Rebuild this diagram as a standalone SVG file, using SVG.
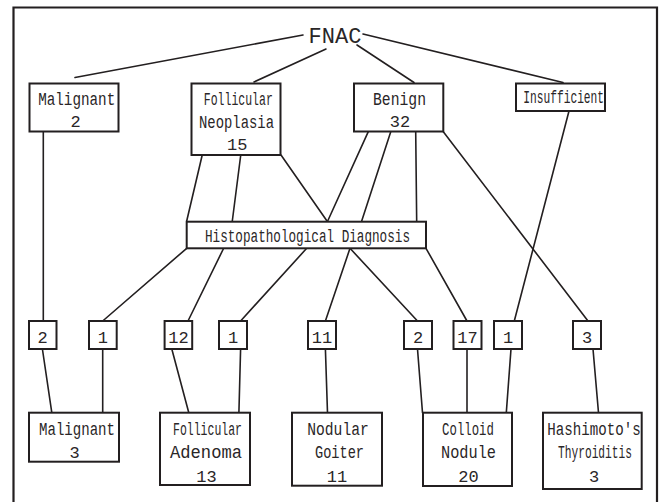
<svg xmlns="http://www.w3.org/2000/svg" width="663" height="502" viewBox="0 0 663 502">
<style>
.box{fill:#fff;stroke:#231f20;stroke-width:2}
.ln{stroke:#231f20;stroke-width:1.6;fill:none;stroke-linecap:round}
text{font-family:"Liberation Mono","Courier New",monospace;font-size:18px;fill:#2a2627;text-anchor:middle}
.num{font-size:17px}
</style>
<rect width="663" height="502" fill="#fff"/>
<path d="M13.5,505 V7.5 H657 V505" fill="none" stroke="#231f20" stroke-width="2.2"/>
<g id="connectors">
<line class="ln" x1="303" y1="35" x2="75" y2="77.5"/>
<line class="ln" x1="326" y1="49" x2="254" y2="82"/>
<line class="ln" x1="357" y1="45" x2="414" y2="82.5"/>
<line class="ln" x1="363" y1="34" x2="563" y2="82.5"/>
<line class="ln" x1="43.3" y1="131" x2="43.3" y2="321"/>
<line class="ln" x1="202.7" y1="153" x2="186.7" y2="221"/>
<line class="ln" x1="241" y1="153" x2="232.3" y2="221"/>
<line class="ln" x1="281" y1="155" x2="327" y2="221"/>
<line class="ln" x1="368.3" y1="131.7" x2="327.7" y2="221"/>
<line class="ln" x1="391" y1="131" x2="361.7" y2="221"/>
<line class="ln" x1="415.7" y1="131" x2="416.7" y2="223"/>
<line class="ln" x1="443.3" y1="131.7" x2="588" y2="321"/>
<line class="ln" x1="569" y1="111" x2="514.3" y2="321"/>
<line class="ln" x1="186.7" y1="248.3" x2="102.7" y2="321"/>
<line class="ln" x1="223.3" y1="249" x2="188" y2="321"/>
<line class="ln" x1="306.7" y1="248.3" x2="240.6" y2="321"/>
<line class="ln" x1="350" y1="248.3" x2="325.4" y2="321"/>
<line class="ln" x1="350" y1="248.3" x2="417.5" y2="321"/>
<line class="ln" x1="426" y1="248.3" x2="467" y2="321"/>
<line class="ln" x1="42.4" y1="349" x2="51.8" y2="412.7"/>
<line class="ln" x1="102.7" y1="349" x2="102.7" y2="412.7"/>
<line class="ln" x1="171.8" y1="349" x2="188.8" y2="412.7"/>
<line class="ln" x1="240.6" y1="349" x2="238.9" y2="412.7"/>
<line class="ln" x1="325.4" y1="349" x2="327.5" y2="412.7"/>
<line class="ln" x1="417.5" y1="349" x2="422.5" y2="412.7"/>
<line class="ln" x1="467" y1="349" x2="467" y2="412.7"/>
<line class="ln" x1="511" y1="349" x2="506" y2="416.7"/>
<line class="ln" x1="593" y1="349" x2="598.5" y2="412.7"/>
</g>
<g id="fnac"><text x="335" y="43.3" style="font-size:22px">FNAC</text></g>
<g id="malignant-fnac">
<rect class="box" x="29.5" y="83.5" width="89" height="48"/>
<text x="76.7" y="105" textLength="77" lengthAdjust="spacingAndGlyphs">Malignant</text>
<text class="num" x="75.5" y="127">2</text>
</g>
<g id="follicular-neoplasia">
<rect class="box" x="191.5" y="83.5" width="89" height="71.5"/>
<text x="238.3" y="105" textLength="69" lengthAdjust="spacingAndGlyphs">Follicular</text>
<text x="236.5" y="128" textLength="75" lengthAdjust="spacingAndGlyphs">Neoplasia</text>
<text class="num" x="237.3" y="150">15</text>
</g>
<g id="benign">
<rect class="box" x="354" y="83.5" width="89.3" height="48"/>
<text x="399.5" y="105" textLength="53" lengthAdjust="spacingAndGlyphs">Benign</text>
<text class="num" x="400" y="127">32</text>
</g>
<g id="insufficient">
<rect class="box" x="516" y="83.5" width="89" height="27.5"/>
<text x="563.7" y="103.3" textLength="80.7" lengthAdjust="spacingAndGlyphs">Insufficient</text>
</g>
<g id="histopathological-diagnosis">
<rect class="box" x="186.7" y="221.7" width="239.3" height="26.6"/>
<text x="307.5" y="241.7" textLength="205" lengthAdjust="spacingAndGlyphs">Histopathological Diagnosis</text>
</g>
<g id="n-a"><rect class="box" x="29" y="321" width="27.5" height="28"/><text class="num" x="42.7" y="343">2</text></g>
<g id="n-b"><rect class="box" x="89" y="321" width="27.7" height="28"/><text class="num" x="102.8" y="343">1</text></g>
<g id="n-c"><rect class="box" x="164.6" y="321" width="27.6" height="28"/><text class="num" x="178.4" y="343">12</text></g>
<g id="n-d"><rect class="box" x="219" y="321" width="28" height="28"/><text class="num" x="233" y="343">1</text></g>
<g id="n-e"><rect class="box" x="308" y="321" width="28" height="28"/><text class="num" x="322" y="343">11</text></g>
<g id="n-f"><rect class="box" x="404" y="321" width="28" height="28"/><text class="num" x="418" y="343">2</text></g>
<g id="n-g"><rect class="box" x="453.5" y="321" width="28" height="28"/><text class="num" x="467.5" y="343">17</text></g>
<g id="n-h"><rect class="box" x="494" y="321" width="28" height="28"/><text class="num" x="508" y="343">1</text></g>
<g id="n-i"><rect class="box" x="573" y="321" width="28" height="28"/><text class="num" x="587" y="343">3</text></g>
<g id="malignant-hist">
<rect class="box" x="29" y="412.7" width="90" height="49"/>
<text x="77" y="435" textLength="76" lengthAdjust="spacingAndGlyphs">Malignant</text>
<text class="num" x="74.5" y="458">3</text>
</g>
<g id="follicular-adenoma">
<rect class="box" x="160" y="412.7" width="90" height="72.3"/>
<text x="207.5" y="435" textLength="69" lengthAdjust="spacingAndGlyphs">Follicular</text>
<text x="206" y="458" textLength="72" lengthAdjust="spacingAndGlyphs">Adenoma</text>
<text class="num" x="206.5" y="481.7">13</text>
</g>
<g id="nodular-goiter">
<rect class="box" x="292" y="412.7" width="90" height="73"/>
<text x="338" y="435" textLength="61.5" lengthAdjust="spacingAndGlyphs">Nodular</text>
<text x="339.5" y="458" textLength="49" lengthAdjust="spacingAndGlyphs">Goiter</text>
<text class="num" x="337" y="481.7">11</text>
</g>
<g id="colloid-nodule">
<rect class="box" x="423" y="412.7" width="89" height="73.3"/>
<text x="468" y="435" textLength="51.8" lengthAdjust="spacingAndGlyphs">Colloid</text>
<text x="468.5" y="458" textLength="55" lengthAdjust="spacingAndGlyphs">Nodule</text>
<text class="num" x="468.5" y="481.7">20</text>
</g>
<g id="hashimotos-thyroiditis">
<rect class="box" x="543" y="412.7" width="98.7" height="76.3"/>
<text transform="translate(594,435) scale(0.786,1)">Hashimoto's</text>
<text transform="translate(595,458) scale(0.623,1)">Thyroiditis</text>
<text class="num" x="594" y="481.7">3</text>
</g>
</svg>
